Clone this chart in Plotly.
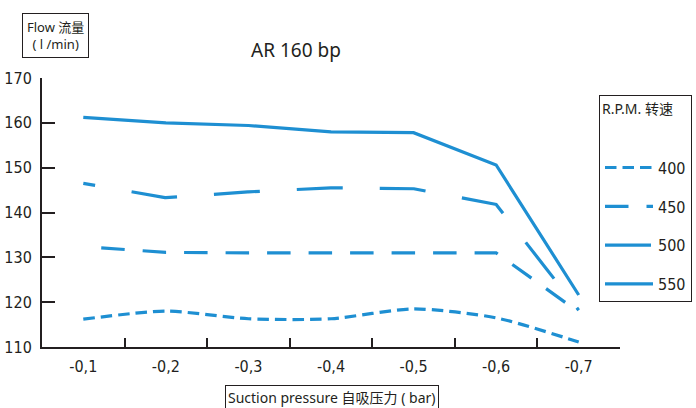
import plotly.graph_objects as go

# ---- data ----
categories = ["-0,1", "-0,2", "-0,3", "-0,4", "-0,5", "-0,6", "-0,7"]
rpm_names = ["400", "450", "500", "550"]
flow_400 = [116.2, 118.0, 116.3, 116.3, 118.5, 116.5, 111.1]
flow_450 = [132.4, 131.1, 131.0, 131.0, 131.0, 131.0, 117.8]
flow_500 = [146.5, 143.3, 144.6, 145.5, 145.3, 141.8, 118.2]
flow_550 = [161.2, 160.0, 159.4, 158.0, 157.8, 150.6, 121.6]
y_ticks = [110, 120, 130, 140, 150, 160, 170]

W, H = 696, 408
ML, MR, MT, MB = 42, 76, 78, 61
PW, PH = W - ML - MR, H - MT - MB

def px(x):
    return (x - ML) / PW

def py(y):
    return (H - MB - y) / PH

BLUE = "#1e8fd2"
INK = "#231f20"
NARROW = "Liberation Sans Narrow, DejaVu Sans Condensed, Liberation Sans, sans-serif"
SANS = "Noto Sans, Noto Sans CJK SC, sans-serif"

series = [
    (flow_400, rpm_names[0], "11.5px,6px", "spline", "11.5px,6px"),
    (flow_450, rpm_names[1], "0px,18px,23.5px,0px", "linear", "23.5px,18px"),
    (flow_500, rpm_names[2], "12px,37px,34px,0px", "linear", "46px,37px"),
    (flow_550, rpm_names[3], "solid", "linear", "solid"),
]

fig = go.Figure()
for vals, name, dash, shape, legdash in series:
    fig.add_trace(go.Scatter(
        x=categories, y=vals, mode="lines", name=name, showlegend=False,
        line=dict(color=BLUE, width=3.2, dash=dash, shape=shape, smoothing=0.7),
        hoverinfo="skip"))
for vals, name, dash, shape, legdash in series:
    fig.add_trace(go.Scatter(
        x=[None], y=[None], mode="lines", name=name, legendgroup=name,
        line=dict(color=BLUE, width=3.2, dash=legdash)))

fig.update_layout(
    width=W, height=H,
    margin=dict(l=ML, r=MR, t=MT, b=MB, pad=0, autoexpand=False),
    paper_bgcolor="white", plot_bgcolor="white",
    showlegend=True,
    legend=dict(
        x=px(599), y=py(95), xanchor="left", yanchor="top",
        bordercolor=INK, borderwidth=1, bgcolor="white",
        title=dict(text="R.P.M. 转速<br> <br> ", font=dict(family=SANS, size=14, color=INK)),
        font=dict(family=NARROW, size=16, color=INK),
        tracegroupgap=15, itemwidth=48,
    ),
    xaxis=dict(
        type="category", categoryorder="array", categoryarray=categories,
        range=[-0.5, 6.5], tickson="boundaries", automargin=False,
        ticks="inside", ticklen=9, tickwidth=2, tickcolor=INK,
        showline=True, linewidth=2, linecolor=INK, showgrid=False,
        tickfont=dict(family=NARROW, size=16, color=INK),
        ticklabelstandoff=4,
    ),
    yaxis=dict(
        range=[110, 170], tickvals=y_ticks, automargin=False,
        ticks="inside", ticklen=13, tickwidth=2, tickcolor=INK,
        showline=True, linewidth=2, linecolor=INK, showgrid=False, zeroline=False,
        tickfont=dict(family=NARROW, size=16, color=INK),
        ticklabelstandoff=5,
    ),
    annotations=[
        dict(text="AR 160 bp", x=px(296), y=py(50), xref="paper", yref="paper",
             showarrow=False, font=dict(family=SANS, size=19, color=INK),
             xanchor="center", yanchor="middle"),
        dict(text="Flow 流量<br>( l /min)", x=px(55), y=py(35), xref="paper", yref="paper",
             showarrow=False, font=dict(family=SANS, size=13, color=INK),
             xanchor="center", yanchor="middle", bordercolor=INK, borderwidth=1,
             borderpad=4, bgcolor="white"),
        dict(text="Suction pressure 自吸压力 ( bar)", x=px(332), y=py(397),
             xref="paper", yref="paper", showarrow=False,
             font=dict(family=SANS, size=14, color=INK),
             xanchor="center", yanchor="middle", bordercolor=INK, borderwidth=1,
             borderpad=2, bgcolor="white"),
    ],
)

fig.write_html("out.html", config={"displayModeBar": False},
               post_script="document.body.style.margin='0px';")
